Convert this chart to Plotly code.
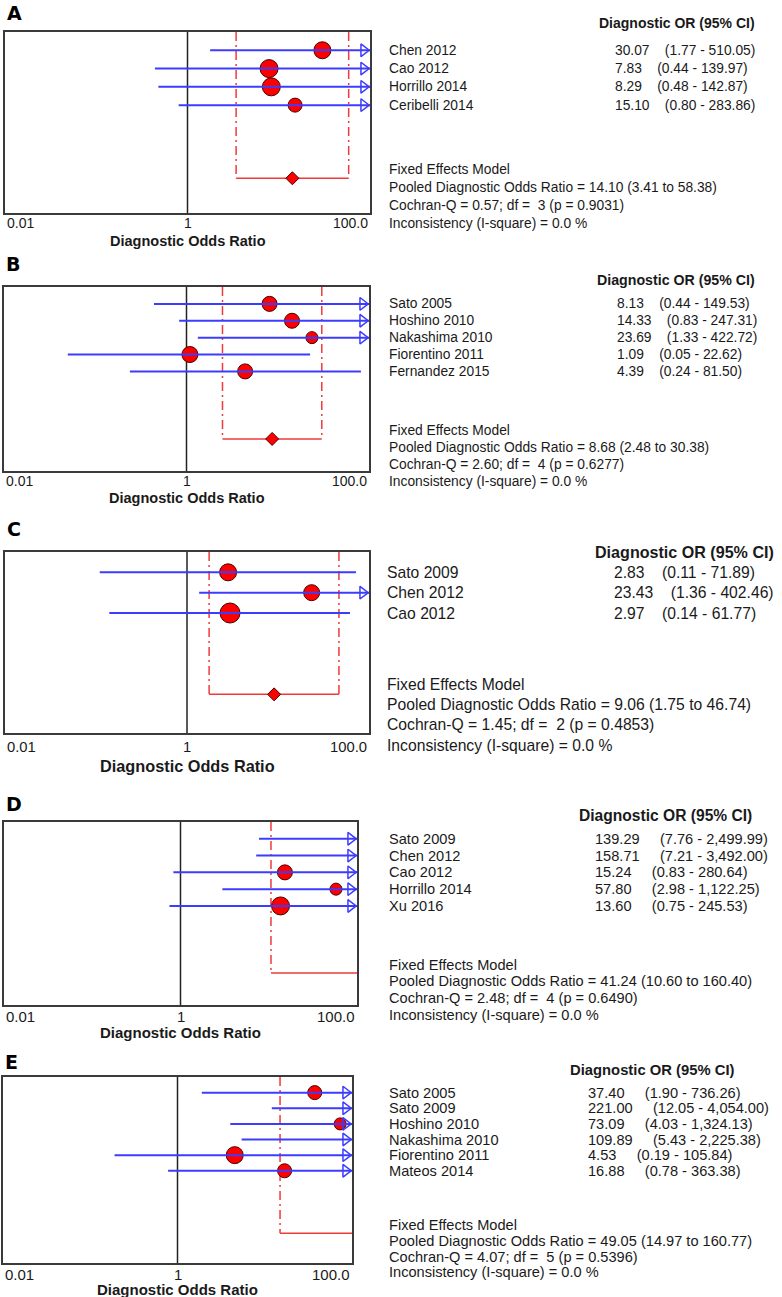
import math

import plotly.graph_objects as go

W, H = 782, 1297
FONT = "Liberation Sans, Arial, sans-serif"
XMIN, XMAX = -2, 2          # log10 of 0.01 .. 100

LINE_BLUE = "#3c3cff"
DOT_RED = "#ff0000"
DASH_RED = "#f03a3a"
EDGE = "#4a0000"

# ---- data ----
A_STUDIES = ["Chen 2012", "Cao 2012", "Horrillo 2014", "Ceribelli 2014"]
A_OR = [30.07, 7.83, 8.29, 15.10]
A_LO = [1.77, 0.44, 0.48, 0.80]
A_HI = [510.05, 139.97, 142.87, 283.86]
A_WEIGHT = [25.0, 28.0, 28.0, 17.0]
A_POOLED = [14.10, 3.41, 58.38]
A_HET = [0.57, 3, 0.9031, 0.0]          # Cochran-Q, df, p, I-square

B_STUDIES = ["Sato 2005", "Hoshino 2010", "Nakashima 2010", "Fiorentino 2011", "Fernandez 2015"]
B_OR = [8.13, 14.33, 23.69, 1.09, 4.39]
B_LO = [0.44, 0.83, 1.33, 0.05, 0.24]
B_HI = [149.53, 247.31, 422.72, 22.62, 81.50]
B_WEIGHT = [19.5, 19.5, 12.5, 22.1, 19.5]
B_POOLED = [8.68, 2.48, 30.38]
B_HET = [2.60, 4, 0.6277, 0.0]

C_STUDIES = ["Sato 2009", "Chen 2012", "Cao 2012"]
C_OR = [2.83, 23.43, 2.97]
C_LO = [0.11, 1.36, 0.14]
C_HI = [71.89, 402.46, 61.77]
C_WEIGHT = [25.0, 22.1, 34.6]
C_POOLED = [9.06, 1.75, 46.74]
C_HET = [1.45, 2, 0.4853, 0.0]

D_STUDIES = ["Sato 2009", "Chen 2012", "Cao 2012", "Horrillo 2014", "Xu 2016"]
D_OR = [139.29, 158.71, 15.24, 57.80, 13.60]
D_LO = [7.76, 7.21, 0.83, 2.98, 0.75]
D_HI = [2499.99, 3492.00, 280.64, 1122.25, 245.53]
D_WEIGHT = [19.5, 19.5, 19.5, 12.5, 28.0]
D_POOLED = [41.24, 10.60, 160.40]
D_HET = [2.48, 4, 0.6490, 0.0]

E_STUDIES = ["Sato 2005", "Sato 2009", "Hoshino 2010", "Nakashima 2010", "Fiorentino 2011", "Mateos 2014"]
E_OR = [37.40, 221.00, 73.09, 109.89, 4.53, 16.88]
E_LO = [1.90, 12.05, 4.03, 5.43, 0.19, 0.78]
E_HI = [736.26, 4054.00, 1324.13, 2225.38, 105.84, 363.38]
E_WEIGHT = [17.0, 10.0, 12.5, 10.0, 25.0, 17.0]
E_POOLED = [49.05, 14.97, 160.77]
E_HET = [4.07, 5, 0.5396, 0.0]

# ---- layout of each panel, in page pixels ----
PANELS = [
    dict(letter="A", studies=A_STUDIES, odds=A_OR, lo=A_LO, hi=A_HI, weight=A_WEIGHT,
         pooled=A_POOLED, het=A_HET, box=(5, 370, 32, 213), letter_y=13, head=(597, 23),
         names_x=387, val_x=613, tick_y=223, title_y=241, fs=13.8, hfs=14, tfs=14, afs=14.5, gap=4),
    dict(letter="B", studies=B_STUDIES, odds=B_OR, lo=B_LO, hi=B_HI, weight=B_WEIGHT,
         pooled=B_POOLED, het=B_HET, box=(4, 369, 287, 471), letter_y=264, head=(595, 280),
         names_x=387, val_x=615, tick_y=481, title_y=498, fs=13.8, hfs=14.2, tfs=14, afs=14.5, gap=4),
    dict(letter="C", studies=C_STUDIES, odds=C_OR, lo=C_LO, hi=C_HI, weight=C_WEIGHT,
         pooled=C_POOLED, het=C_HET, box=(5, 369, 552, 733), letter_y=529, head=(593, 552),
         names_x=385, val_x=612, tick_y=747, title_y=766, fs=15.7, hfs=16.1, tfs=14.8, afs=16.3, gap=4),
    dict(letter="D", studies=D_STUDIES, odds=D_OR, lo=D_LO, hi=D_HI, weight=D_WEIGHT,
         pooled=D_POOLED, het=D_HET, box=(4, 357, 822, 1005), letter_y=804, head=(577, 815),
         names_x=387, val_x=593, tick_y=1016, title_y=1032, fs=14.6, hfs=15.6, tfs=15, afs=15, gap=5),
    dict(letter="E", studies=E_STUDIES, odds=E_OR, lo=E_LO, hi=E_HI, weight=E_WEIGHT,
         pooled=E_POOLED, het=E_HET, box=(3, 352, 1077, 1263), letter_y=1062, head=(568, 1070),
         names_x=387, val_x=586, tick_y=1274, title_y=1289, fs=14.6, hfs=14.8, tfs=15, afs=15, gap=5),
]


def px(x):
    return x / W


def py(y):
    return 1 - y / H


fig = go.Figure()
annotations = []

for i, p in enumerate(PANELS, start=1):
    sfx = "" if i == 1 else str(i)
    xref, yref = "x" + sfx, "y" + sfx
    n = len(p["studies"])
    pooled_row = n + 3
    y_top, y_bot = -1, n + 4.9
    x0, x1, t0, t1 = p["box"]
    px_per_decade = (x1 - x0) / (XMAX - XMIN)
    hi_lim = 10 ** XMAX
    rows = list(range(n))
    p_or, p_lo, p_hi = p["pooled"]

    def row_y(r):
        # row index -> paper y, so the table text lines up with the plot rows
        return py(t0 + (r - y_top) / (y_bot - y_top) * (t1 - t0))

    def add(trace):
        trace.update(xaxis=xref, yaxis=yref, showlegend=False, hoverinfo="skip")
        fig.add_trace(trace)

    # line of no effect
    add(go.Scatter(x=[1, 1], y=[y_top, y_bot], mode="lines",
                   line=dict(color="#222222", width=1.5)))
    # pooled CI guides + bracket
    for b in (p_lo, p_hi):
        add(go.Scatter(x=[b, b], y=[y_top, pooled_row], mode="lines",
                       line=dict(color=DASH_RED, width=1.5, dash="9px,4px,2px,4px")))
    add(go.Scatter(x=[p_lo, p_hi], y=[pooled_row, pooled_row], mode="lines",
                   line=dict(color=DASH_RED, width=1.5)))

    # study point estimates (only those inside the axis)
    vis = [k for k in rows if p["odds"][k] <= hi_lim]
    add(go.Scatter(x=[p["odds"][k] for k in vis], y=vis, mode="markers",
                   marker=dict(color=DOT_RED, opacity=1,
                               size=[3.4 * math.sqrt(p["weight"][k]) for k in vis],
                               line=dict(color=EDGE, width=1))))
    # study CIs
    cx, cy = [], []
    for k in rows:
        cx += [p["lo"][k], p["hi"][k], None]
        cy += [k, k, None]
    add(go.Scatter(x=cx, y=cy, mode="lines", line=dict(color=LINE_BLUE, width=2)))
    # arrows for CIs running off the right edge
    off = [k for k in rows if p["hi"][k] > hi_lim]
    arrow_x = 10 ** (XMAX - 6.3 / px_per_decade)
    add(go.Scatter(x=[arrow_x] * len(off), y=off, mode="markers", cliponaxis=False,
                   marker=dict(symbol="triangle-right-open", size=11, color=LINE_BLUE,
                               opacity=1, line=dict(width=1.5))))
    # pooled diamond (not drawn when the pooled CI leaves the axis)
    if p_hi <= hi_lim:
        add(go.Scatter(x=[p_or], y=[pooled_row], mode="markers",
                       marker=dict(symbol="diamond", size=10, color=DOT_RED, opacity=1,
                                   line=dict(color=EDGE, width=1))))

    fig.update_layout({
        "xaxis" + sfx: dict(domain=[px(x0), px(x1)], type="log", range=[XMIN, XMAX],
                            anchor=yref, showline=True, mirror=True, linecolor="#3a3a3a",
                            linewidth=1.5, showgrid=False, zeroline=False,
                            showticklabels=False, ticks=""),
        "yaxis" + sfx: dict(domain=[py(t1), py(t0)], range=[y_bot, y_top], anchor=xref,
                            showline=True, mirror=True, linecolor="#3a3a3a", linewidth=1.5,
                            showgrid=False, zeroline=False, showticklabels=False, ticks=""),
    })

    def note(text, x, y, size, anchor="left", bold=False, xr="paper"):
        annotations.append(dict(
            text=f"<b>{text}</b>" if bold else text, x=x, y=y, xref=xr, yref="paper",
            xanchor=anchor, yanchor="middle", showarrow=False,
            font=dict(family=FONT, size=size, color="#1a1a1a")))

    # panel letter
    annotations.append(dict(text=f"<b>{p['letter']}</b>", x=px(x0), y=py(p["letter_y"]),
                            xref="paper", yref="paper", xanchor="left", yanchor="middle",
                            showarrow=False,
                            font=dict(family="DejaVu Sans, sans-serif", size=19, color="#000000")))
    # axis labels
    note("0.01", px(x0), py(p["tick_y"]), p["tfs"])
    note("1", 0, py(p["tick_y"]), p["tfs"], anchor="center", xr=xref)
    note("100.0", px(x1), py(p["tick_y"]), p["tfs"], anchor="right")
    note("Diagnostic Odds Ratio", px((x0 + x1) / 2), py(p["title_y"]), p["afs"],
         anchor="center", bold=True)

    # right-hand table
    note("Diagnostic OR (95% CI)", px(p["head"][0]), py(p["head"][1]), p["hfs"], bold=True)
    gap = "\u00a0" * p["gap"]
    for k in rows:
        note(p["studies"][k], px(p["names_x"]), row_y(k), p["fs"])
        note(f"{p['odds'][k]:,.2f}{gap}({p['lo'][k]:,.2f} - {p['hi'][k]:,.2f})",
             px(p["val_x"]), row_y(k), p["fs"])
    q, df, pval, i2 = p["het"]
    summary = [
        "Fixed Effects Model",
        f"Pooled Diagnostic Odds Ratio = {p_or:.2f} ({p_lo:.2f} to {p_hi:.2f})",
        f"Cochran-Q = {q:.2f}; df =\u00a0\u00a0{df} (p = {pval:.4f})",
        f"Inconsistency (I-square) = {i2:.1f} %",
    ]
    for j, line in enumerate(summary):
        note(line, px(p["names_x"]), row_y(pooled_row - 0.5 + j), p["fs"])

fig.update_layout(
    width=W, height=H, autosize=False,
    margin=dict(l=0, r=0, t=0, b=0),
    paper_bgcolor="white", plot_bgcolor="white",
    showlegend=False,
    annotations=annotations,
)

# drop the browser's default 8px body margin so the figure fills the window
fig.write_html("out.html", config={"displayModeBar": False},
               post_script="document.body.style.margin='0';")
